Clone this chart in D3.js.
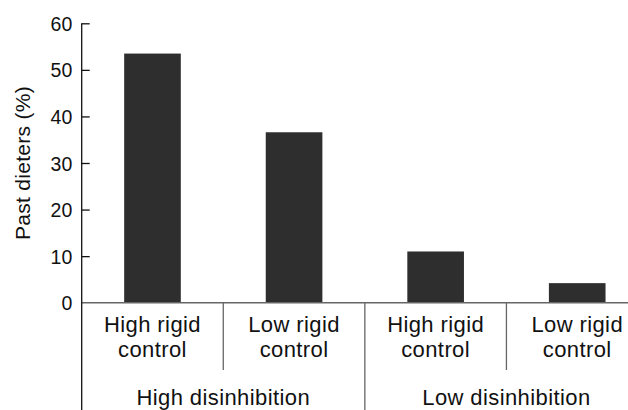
<!DOCTYPE html>
<html>
<head>
<meta charset="utf-8">
<script src="https://cdn.jsdelivr.net/npm/d3@7"></script>
<style>
  body { margin: 0; background: #fff; }
  text { font-family: Arial, "Liberation Sans", Helvetica, sans-serif; fill: #111; }
</style>
</head>
<body>
<div id="chart"></div>
<script>
// data
var categories = ["hd_hr", "hd_lr", "ld_hr", "ld_lr"];
var subLabels = [["High rigid", "control"], ["Low rigid", "control"], ["High rigid", "control"], ["Low rigid", "control"]];
var groupLabels = ["High disinhibition", "Low disinhibition"];
var values = [53.5, 36.6, 11.0, 4.2];
var yTicks = [0, 10, 20, 30, 40, 50, 60];

var W = 628, H = 410;
var margin = { top: 23.3, left: 81.7, bottom: 107.3 };
var plotBottom = H - margin.bottom;

var svg = d3.select("#chart")
    .append("svg")
    .attr("width", W)
    .attr("height", H);

// x band scale (plot runs past the right edge of the picture)
var x = d3.scaleBand()
    .domain(categories)
    .range([margin.left, 648])
    .paddingInner(0.6)
    .paddingOuter(0.3);

var y = d3.scaleLinear()
    .domain([0, 60])
    .range([plotBottom, margin.top]);

// bars
svg.append("g")
    .selectAll("rect")
    .data(values)
    .enter()
    .append("rect")
    .attr("x", (d, i) => x(categories[i]))
    .attr("y", d => y(d))
    .attr("width", x.bandwidth())
    .attr("height", d => y(0) - y(d))
    .style("fill", "#2e2e2e");

// baseline
svg.append("line")
    .attr("x1", margin.left)
    .attr("x2", W)
    .attr("y1", y(0))
    .attr("y2", y(0))
    .style("stroke", "#666")
    .style("stroke-width", 1.5);

// y axis with inward ticks
var yAxis = svg.append("g")
    .attr("transform", "translate(" + margin.left + ",0)")
    .call(d3.axisLeft(y).tickValues(yTicks).tickSizeInner(-8).tickSizeOuter(-8).tickPadding(9));
yAxis.selectAll("text")
    .style("font-size", "19.5px")
    .style("letter-spacing", "0.3px")
    .style("font-family", "Arial, 'Liberation Sans', sans-serif")
    .attr("dy", "0.36em");
yAxis.selectAll("line, path").style("stroke", "#111").style("stroke-width", 1.3);
yAxis.select(".domain").remove();
yAxis.selectAll(".tick").filter(d => d === 0).select("line").remove();

// vertical axis line runs down through the category rows
svg.append("line")
    .attr("x1", margin.left)
    .attr("x2", margin.left)
    .attr("y1", y(60))
    .attr("y2", H)
    .style("stroke", "#111")
    .style("stroke-width", 1.3);

// separators between categories
var step = x.step();
var seps = [0, 1, 2];
svg.append("g")
    .selectAll("line")
    .data(seps)
    .enter()
    .append("line")
    .attr("x1", i => x(categories[i]) + x.bandwidth() + step * 0.3)
    .attr("x2", i => x(categories[i]) + x.bandwidth() + step * 0.3)
    .attr("y1", y(0))
    .attr("y2", i => i === 1 ? H : 370)
    .style("stroke", "#666")
    .style("stroke-width", 1.3);

// category labels
var cat = svg.append("g")
    .selectAll("text")
    .data(categories)
    .enter()
    .append("text")
    .attr("text-anchor", "middle")
    .style("font-size", "22px")
    .style("letter-spacing", "0.4px");
cat.append("tspan")
    .attr("x", d => x(d) + x.bandwidth() / 2)
    .attr("y", 331.7)
    .text((d, i) => subLabels[i][0]);
cat.append("tspan")
    .attr("x", d => x(d) + x.bandwidth() / 2)
    .attr("y", 356.7)
    .text((d, i) => subLabels[i][1]);

// group labels
svg.append("g")
    .selectAll("text")
    .data(groupLabels)
    .enter()
    .append("text")
    .attr("x", (d, i) => (x(categories[i * 2]) + x(categories[i * 2 + 1]) + x.bandwidth()) / 2)
    .attr("y", 405)
    .attr("text-anchor", "middle")
    .style("font-size", "22px")
    .style("letter-spacing", "0.4px")
    .text(d => d);

// y title
svg.append("text")
    .attr("transform", "translate(29.5," + ((y(0) + y(60)) / 2) + ") rotate(-90)")
    .attr("text-anchor", "middle")
    .style("font-size", "21px")
    .style("letter-spacing", "0.3px")
    .text("Past dieters (%)");
</script>
</body>
</html>
